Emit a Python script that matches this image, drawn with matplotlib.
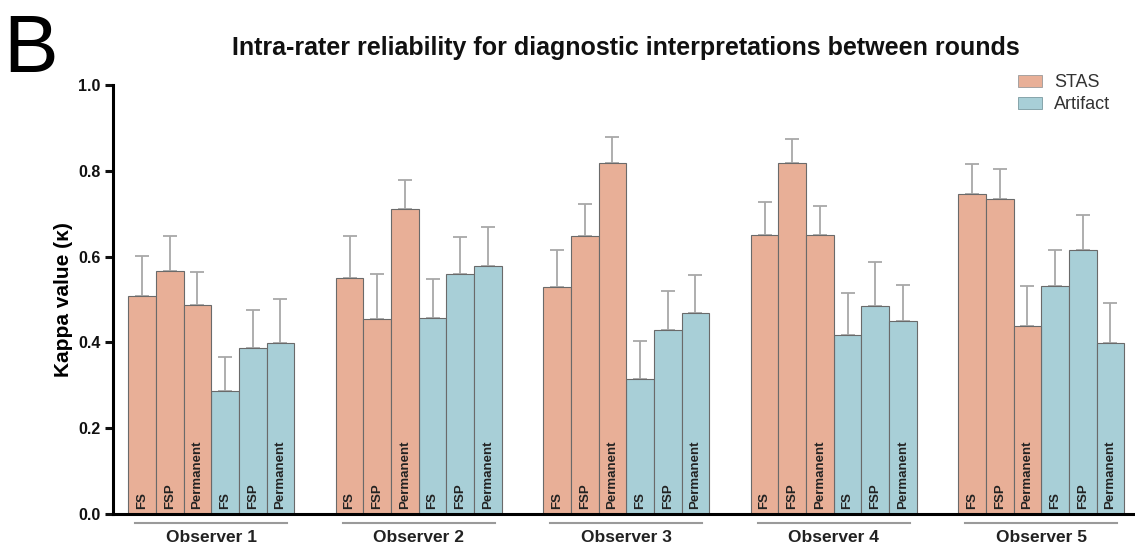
import matplotlib
matplotlib.use("Agg")
import matplotlib.pyplot as plt
import matplotlib.transforms as mtransforms
from matplotlib.patches import Patch
import numpy as np

plt.rcParams['font.family'] = ['Liberation Sans', 'DejaVu Sans']

observers = ["Observer 1", "Observer 2", "Observer 3", "Observer 4", "Observer 5"]
methods = ["FS", "FSP", "Permanent"]

stas_values = [
    [0.507, 0.567, 0.488],
    [0.551, 0.455, 0.710],
    [0.530, 0.648, 0.819],
    [0.651, 0.819, 0.651],
    [0.747, 0.735, 0.439],
]
stas_upper = [
    [0.602, 0.647, 0.563],
    [0.647, 0.560, 0.778],
    [0.616, 0.722, 0.878],
    [0.728, 0.875, 0.719],
    [0.816, 0.805, 0.532],
]
artifact_values = [
    [0.286, 0.388, 0.398],
    [0.458, 0.560, 0.579],
    [0.315, 0.429, 0.469],
    [0.417, 0.486, 0.449],
    [0.532, 0.616, 0.399],
]
artifact_upper = [
    [0.366, 0.476, 0.501],
    [0.547, 0.646, 0.668],
    [0.404, 0.519, 0.557],
    [0.516, 0.588, 0.534],
    [0.616, 0.696, 0.491],
]

stas_color = "#E8AF97"
art_color = "#A8CFD7"

fig = plt.figure(figsize=(11.35, 5.52), dpi=100)
ax = fig.add_axes([113/1135, 1-514/552, 1-113/1135, (514-85)/552])

period = 7.5
trans = mtransforms.blended_transform_factory(ax.transData, ax.transAxes)
for i, obs in enumerate(observers):
    base = i * period
    for j, m in enumerate(methods):
        for k, (vals, ups, col) in enumerate([(stas_values, stas_upper, stas_color),
                                              (artifact_values, artifact_upper, art_color)]):
            x = base + k * 3 + j
            v = vals[i][j]
            u = ups[i][j]
            ax.bar(x, v, width=1.0, color=col, edgecolor="#6a6a6a", linewidth=0.8, zorder=2)
            ax.errorbar(x, v, yerr=[[0], [u - v]], fmt="none", ecolor="#a8a8a8",
                        elinewidth=1.3, capsize=5, capthick=1.3, zorder=1)
            ax.text(x, 0.012, m, rotation=90, ha="center", va="bottom",
                    fontsize=9.5, fontweight="bold", color="#222222", zorder=3)
    ax.plot([base - 0.25, base + 5.25], [-0.021, -0.021], transform=trans,
            color="#9a9a9a", lw=1.5, clip_on=False)
    ax.text(base + 2.5, -0.054, obs, transform=trans, ha="center", va="center",
            fontsize=12.5, fontweight="bold", color="#222222")

ax.set_xlim(-1.05, 35.89)
ax.set_ylim(0, 1.0)
ax.set_yticks([0, 0.2, 0.4, 0.6, 0.8, 1.0])
ax.set_yticklabels(["0.0", "0.2", "0.4", "0.6", "0.8", "1.0"], fontweight="bold", fontsize=11.5)
ax.set_xticks([])
for s in ["top", "right"]:
    ax.spines[s].set_visible(False)
ax.spines["left"].set_linewidth(2.2)
ax.spines["bottom"].set_linewidth(2.2)
ax.tick_params(axis="y", direction="out", length=6, width=2.2, pad=3, colors="#111111")

ax.set_ylabel("Kappa value (κ)", fontsize=15, fontweight="bold")
ax.yaxis.set_label_coords((73-113)/1022, 0.5)

fig.text(625.5/1135, 1-48/552, "Intra-rater reliability for diagnostic interpretations between rounds",
         ha="center", va="center", fontsize=18, fontweight="bold", color="#111111")
fig.text(31/1135, 1-72/552, "B", ha="center", va="baseline", fontsize=59, color="black")

handles = [Patch(facecolor=stas_color, edgecolor="#9a9a9a", lw=0.6, label="STAS"),
           Patch(facecolor=art_color, edgecolor="#7a9aa0", lw=0.6, label="Artifact")]
leg = ax.legend(handles=handles, loc="upper left", bbox_to_anchor=(1009/1135, 1-65/552),
                bbox_transform=fig.transFigure, frameon=False, fontsize=13, borderpad=0,
                handlelength=1.33, handleheight=0.67, labelspacing=0.3, handletextpad=0.67)
for t in leg.get_texts():
    t.set_color("#333333")

fig.savefig("out.png", dpi=100)
